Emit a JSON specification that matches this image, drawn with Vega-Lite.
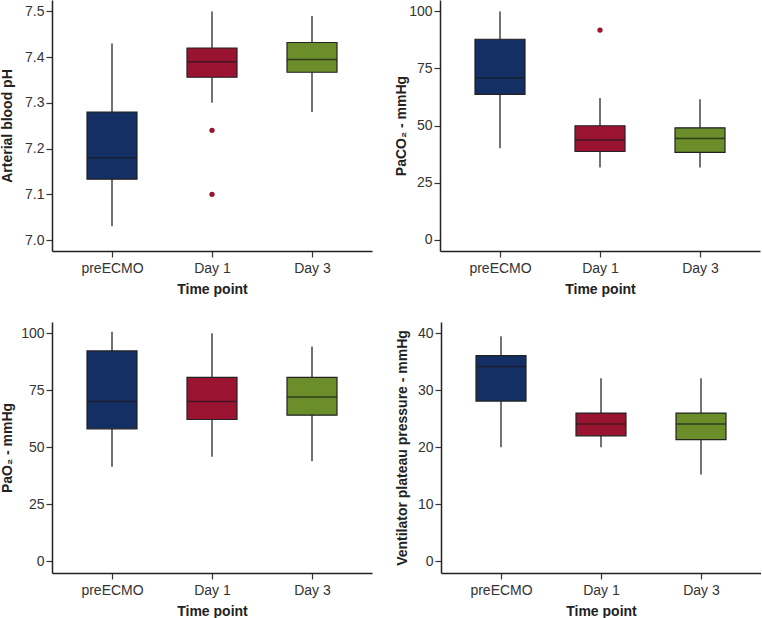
{
  "$schema": "https://vega.github.io/schema/vega-lite/v6.json",
  "padding": {"left": 0, "top": 0, "right": 0, "bottom": 0},
  "background": "white",
  "datasets": {
    "ph": [
      {"time": "preECMO", "min": 7.03, "q1": 7.133, "median": 7.18, "q3": 7.28, "max": 7.43},
      {"time": "Day 1", "min": 7.30, "q1": 7.356, "median": 7.39, "q3": 7.42, "max": 7.50},
      {"time": "Day 3", "min": 7.28, "q1": 7.367, "median": 7.395, "q3": 7.432, "max": 7.49}
    ],
    "ph_out": [
      {"time": "Day 1", "value": 7.24},
      {"time": "Day 1", "value": 7.10}
    ],
    "paco2": [
      {"time": "preECMO", "min": 40, "q1": 63.6, "median": 70.8, "q3": 87.8, "max": 100},
      {"time": "Day 1", "min": 31.6, "q1": 38.6, "median": 43.7, "q3": 49.9, "max": 62},
      {"time": "Day 3", "min": 31.6, "q1": 38.2, "median": 44.3, "q3": 49.0, "max": 61.5}
    ],
    "paco2_out": [
      {"time": "Day 1", "value": 91.8}
    ],
    "pao2": [
      {"time": "preECMO", "min": 41.5, "q1": 58.1, "median": 70.1, "q3": 92.3, "max": 100.7},
      {"time": "Day 1", "min": 45.8, "q1": 62.2, "median": 70.1, "q3": 80.7, "max": 100.1},
      {"time": "Day 3", "min": 43.9, "q1": 64.1, "median": 72.1, "q3": 80.7, "max": 94.2}
    ],
    "plat": [
      {"time": "preECMO", "min": 20, "q1": 28.1, "median": 34.2, "q3": 36.1, "max": 39.5},
      {"time": "Day 1", "min": 20, "q1": 22, "median": 24.1, "q3": 26, "max": 32.1},
      {"time": "Day 3", "min": 15.2, "q1": 21.35, "median": 24.1, "q3": 26, "max": 32.1}
    ]
  },
  "vconcat": [
    {
      "spacing": 22,
      "hconcat": [
        {
          "width": 320, "height": 251,
          "layer": [
            {"data": {"name": "ph"}, "mark": {"type": "rule", "color": "#444", "strokeWidth": 1.5},
             "encoding": {
               "x": {"field": "time", "type": "nominal", "sort": ["preECMO", "Day 1", "Day 3"], "scale": {"type": "point", "padding": 0.6}, "axis": {"title": "Time point"}},
               "y": {"field": "min", "type": "quantitative", "scale": {"domain": [6.976, 7.525], "nice": false, "zero": false}, "axis": {"title": "Arterial blood pH", "values": [7.0, 7.1, 7.2, 7.3, 7.4, 7.5], "format": ".1f", "titlePadding": 8}},
               "y2": {"field": "max"}}},
            {"data": {"name": "ph"}, "mark": {"type": "bar", "size": 50, "stroke": "#222", "strokeWidth": 1.2},
             "encoding": {
               "x": {"field": "time", "type": "nominal", "sort": ["preECMO", "Day 1", "Day 3"]},
               "y": {"field": "q1", "type": "quantitative", "title": "Arterial blood pH"},
               "y2": {"field": "q3"},
               "color": {"field": "time", "type": "nominal", "scale": {"domain": ["preECMO", "Day 1", "Day 3"], "range": ["#142F63", "#9A1330", "#6B8E2B"]}, "legend": null}}},
            {"data": {"name": "ph"}, "mark": {"type": "tick", "size": 50, "thickness": 1.5, "color": "#1a1a1a", "orient": "horizontal"},
             "encoding": {
               "x": {"field": "time", "type": "nominal", "sort": ["preECMO", "Day 1", "Day 3"]},
               "y": {"field": "median", "type": "quantitative", "title": "Arterial blood pH"}}},
            {"data": {"name": "ph_out"}, "mark": {"type": "point", "filled": true, "size": 28, "opacity": 1, "color": "#9A1330"},
             "encoding": {
               "x": {"field": "time", "type": "nominal", "sort": ["preECMO", "Day 1", "Day 3"]},
               "y": {"field": "value", "type": "quantitative", "title": "Arterial blood pH"}}}
          ]
        },
        {
          "width": 320, "height": 251,
          "layer": [
            {"data": {"name": "paco2"}, "mark": {"type": "rule", "color": "#444", "strokeWidth": 1.5},
             "encoding": {
               "x": {"field": "time", "type": "nominal", "sort": ["preECMO", "Day 1", "Day 3"], "scale": {"type": "point", "padding": 0.6}, "axis": {"title": "Time point"}},
               "y": {"field": "min", "type": "quantitative", "scale": {"domain": [-5, 105], "nice": false, "zero": false}, "axis": {"title": "PaCO₂ - mmHg", "values": [0, 25, 50, 75, 100], "titlePadding": 2}},
               "y2": {"field": "max"}}},
            {"data": {"name": "paco2"}, "mark": {"type": "bar", "size": 50, "stroke": "#222", "strokeWidth": 1.2},
             "encoding": {
               "x": {"field": "time", "type": "nominal", "sort": ["preECMO", "Day 1", "Day 3"]},
               "y": {"field": "q1", "type": "quantitative", "title": "PaCO₂ - mmHg"},
               "y2": {"field": "q3"},
               "color": {"field": "time", "type": "nominal", "scale": {"domain": ["preECMO", "Day 1", "Day 3"], "range": ["#142F63", "#9A1330", "#6B8E2B"]}, "legend": null}}},
            {"data": {"name": "paco2"}, "mark": {"type": "tick", "size": 50, "thickness": 1.5, "color": "#1a1a1a", "orient": "horizontal"},
             "encoding": {
               "x": {"field": "time", "type": "nominal", "sort": ["preECMO", "Day 1", "Day 3"]},
               "y": {"field": "median", "type": "quantitative", "title": "PaCO₂ - mmHg"}}},
            {"data": {"name": "paco2_out"}, "mark": {"type": "point", "filled": true, "size": 28, "opacity": 1, "color": "#9A1330"},
             "encoding": {
               "x": {"field": "time", "type": "nominal", "sort": ["preECMO", "Day 1", "Day 3"]},
               "y": {"field": "value", "type": "quantitative", "title": "PaCO₂ - mmHg"}}}
          ]
        }
      ]
    },
    {
      "spacing": 22,
      "hconcat": [
        {
          "width": 320, "height": 251,
          "layer": [
            {"data": {"name": "pao2"}, "mark": {"type": "rule", "color": "#444", "strokeWidth": 1.5},
             "encoding": {
               "x": {"field": "time", "type": "nominal", "sort": ["preECMO", "Day 1", "Day 3"], "scale": {"type": "point", "padding": 0.6}, "axis": {"title": "Time point"}},
               "y": {"field": "min", "type": "quantitative", "scale": {"domain": [-5.2, 105], "nice": false, "zero": false}, "axis": {"title": "PaO₂ - mmHg", "values": [0, 25, 50, 75, 100], "titlePadding": 8}},
               "y2": {"field": "max"}}},
            {"data": {"name": "pao2"}, "mark": {"type": "bar", "size": 50, "stroke": "#222", "strokeWidth": 1.2},
             "encoding": {
               "x": {"field": "time", "type": "nominal", "sort": ["preECMO", "Day 1", "Day 3"]},
               "y": {"field": "q1", "type": "quantitative", "title": "PaO₂ - mmHg"},
               "y2": {"field": "q3"},
               "color": {"field": "time", "type": "nominal", "scale": {"domain": ["preECMO", "Day 1", "Day 3"], "range": ["#142F63", "#9A1330", "#6B8E2B"]}, "legend": null}}},
            {"data": {"name": "pao2"}, "mark": {"type": "tick", "size": 50, "thickness": 1.5, "color": "#1a1a1a", "orient": "horizontal"},
             "encoding": {
               "x": {"field": "time", "type": "nominal", "sort": ["preECMO", "Day 1", "Day 3"]},
               "y": {"field": "median", "type": "quantitative", "title": "PaO₂ - mmHg"}}}
          ]
        },
        {
          "width": 320, "height": 251,
          "layer": [
            {"data": {"name": "plat"}, "mark": {"type": "rule", "color": "#444", "strokeWidth": 1.5},
             "encoding": {
               "x": {"field": "time", "type": "nominal", "sort": ["preECMO", "Day 1", "Day 3"], "scale": {"type": "point", "padding": 0.6}, "axis": {"title": "Time point"}},
               "y": {"field": "min", "type": "quantitative", "scale": {"domain": [-2.1, 42], "nice": false, "zero": false}, "axis": {"title": "Ventilator plateau pressure - mmHg", "values": [0, 10, 20, 30, 40], "titlePadding": 2}},
               "y2": {"field": "max"}}},
            {"data": {"name": "plat"}, "mark": {"type": "bar", "size": 50, "stroke": "#222", "strokeWidth": 1.2},
             "encoding": {
               "x": {"field": "time", "type": "nominal", "sort": ["preECMO", "Day 1", "Day 3"]},
               "y": {"field": "q1", "type": "quantitative", "title": "Ventilator plateau pressure - mmHg"},
               "y2": {"field": "q3"},
               "color": {"field": "time", "type": "nominal", "scale": {"domain": ["preECMO", "Day 1", "Day 3"], "range": ["#142F63", "#9A1330", "#6B8E2B"]}, "legend": null}}},
            {"data": {"name": "plat"}, "mark": {"type": "tick", "size": 50, "thickness": 1.5, "color": "#1a1a1a", "orient": "horizontal"},
             "encoding": {
               "x": {"field": "time", "type": "nominal", "sort": ["preECMO", "Day 1", "Day 3"]},
               "y": {"field": "median", "type": "quantitative", "title": "Ventilator plateau pressure - mmHg"}}}
          ]
        }
      ]
    }
  ],
  "spacing": 26,
  "config": {
    "view": {"stroke": null},
    "font": "Liberation Sans",
    "axis": {
      "grid": false,
      "domainColor": "#222", "domainWidth": 1.5,
      "tickColor": "#333", "tickWidth": 1.2, "tickSize": 6,
      "labelFont": "Liberation Sans", "labelFontSize": 14, "labelColor": "#333",
      "titleFont": "Liberation Sans", "titleFontSize": 14, "titleFontWeight": "bold", "titleColor": "#222"
    },
    "axisX": {"labelPadding": 4, "titlePadding": 7, "labelAngle": 0},
    "axisY": {"labelPadding": 2, "minExtent": 30, "maxExtent": 30}
  }
}
